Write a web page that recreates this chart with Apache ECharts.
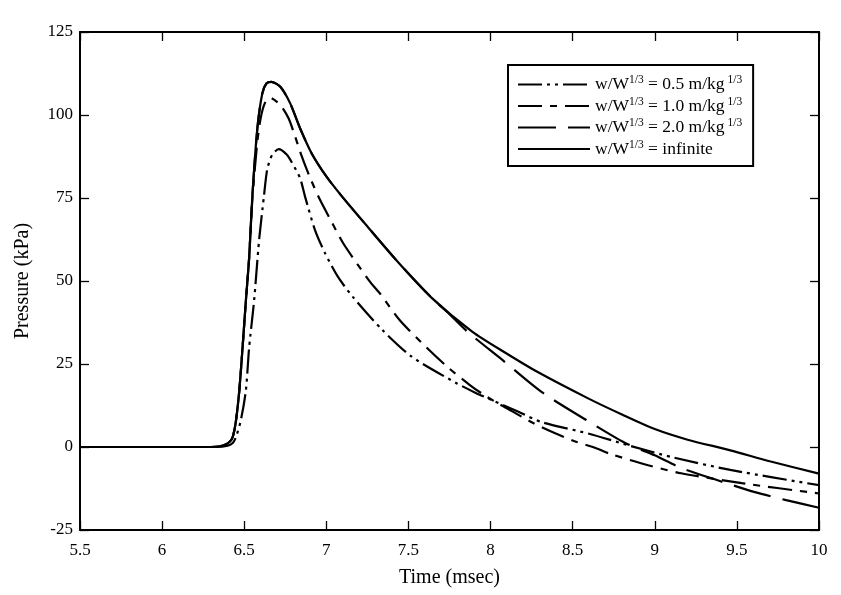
<!DOCTYPE html>
<html>
<head>
<meta charset="utf-8">
<script src="https://cdn.jsdelivr.net/npm/echarts@6/dist/echarts.min.js"></script>
<style>
html,body{margin:0;padding:0;background:#fff;}
#chart{width:841px;height:595px;}
</style>
</head>
<body>
<div id="chart"></div>
<script>
// ---- data ----
var seriesNames = ['0.5', '1.0', '2.0', 'infinite'];

var t05 = [5.5, 6.33, 6.40, 6.43, 6.45, 6.48, 6.51, 6.53, 6.56, 6.59, 6.62, 6.64, 6.67, 6.71, 6.76, 6.79, 6.84, 6.87, 6.93, 6.99, 7.07, 7.16, 7.34, 7.52, 7.79, 7.91, 8.0, 8.17, 8.31, 8.60, 8.84, 9.1, 9.46, 10.0];
var p05 = [0, 0, 0.4, 1.2, 3, 8.2, 17, 30, 44, 62, 75.5, 83.6, 88, 89.7, 88, 85.7, 81, 75.5, 65.5, 58.6, 51.3, 45.3, 35.3, 27.2, 19.3, 16.3, 14.3, 10.6, 7.5, 4.0, 0.5, -3.0, -6.9, -11.5];

var t10 = [5.5, 6.30, 6.37, 6.41, 6.43, 6.45, 6.47, 6.49, 6.51, 6.53, 6.55, 6.58, 6.60, 6.625, 6.655, 6.72, 6.77, 6.81, 6.85, 6.90, 6.96, 7.03, 7.10, 7.19, 7.27, 7.33, 7.45, 7.61, 7.74, 7.87, 7.95, 8.05, 8.13, 8.26, 8.39, 8.52, 8.64, 8.73, 8.96, 9.16, 9.53, 10.0];
var p10 = [0, 0, 0.4, 1.5, 3, 8, 17, 30, 44, 57, 75, 92, 99, 103.5, 105.2, 103, 99, 93.5, 87.6, 81.2, 74.6, 68, 61.6, 55, 49.5, 46, 38, 30, 24, 18.8, 16, 13, 10.8, 7.2, 4.2, 1.6, -0.3, -2.1, -5.5, -7.9, -10.9, -14];

var t20 = [5.5, 6.30, 6.37, 6.41, 6.43, 6.45, 6.47, 6.49, 6.51, 6.53, 6.55, 6.58, 6.61, 6.635, 6.665, 6.72, 6.78, 6.84, 6.91, 7.00, 7.09, 7.24, 7.44, 7.64, 7.75, 7.86, 8.07, 8.31, 8.58, 8.82, 9.0, 9.16, 9.4, 9.61, 9.8, 10.0];
var p20 = [0, 0, 0.4, 1.5, 3, 8, 17, 30, 44, 57, 76, 96, 106.5, 109.5, 110, 108.5, 103.5, 96, 88.5, 81.5, 75.8, 67, 55.5, 45, 40, 34.7, 26.3, 16.6, 8.2, 1.2, -2.5, -6.3, -10.3, -13.6, -16, -18.3];

var tInf = [5.5, 6.30, 6.37, 6.41, 6.43, 6.45, 6.47, 6.49, 6.51, 6.53, 6.55, 6.58, 6.61, 6.635, 6.665, 6.72, 6.78, 6.84, 6.91, 7.00, 7.09, 7.24, 7.44, 7.64, 7.89, 8.09, 8.29, 8.60, 8.80, 9.00, 9.20, 9.46, 9.70, 10.0];
var pInf = [0, 0, 0.4, 1.5, 3, 8, 17, 30, 44, 57, 76, 96, 106.5, 109.5, 110, 108.5, 103.5, 96, 88.5, 81.5, 75.8, 67, 55.5, 45, 34.7, 28.4, 22.5, 14.5, 9.8, 5.4, 2.2, -1, -4.3, -8];

var xTicks = {min: 5.5, max: 10, step: 0.5};
var yTicks = {min: -25, max: 125, step: 25};

// ---- build chart ----
function zip(t, p) { return t.map(function (v, i) { return [v, p[i]]; }); }
var dashes = {
  '0.5': [24, 5, 3, 5, 3, 5],
  '1.0': [24, 8, 7, 8],
  '2.0': [38, 12],
  'infinite': 'solid'
};
var dataMap = {
  '0.5': zip(t05, p05),
  '1.0': zip(t10, p10),
  '2.0': zip(t20, p20),
  'infinite': zip(tInf, pInf)
};
var FONT = 'Liberation Serif';

var chart = echarts.init(document.getElementById('chart'), null, {renderer: 'canvas'});
var tickStyle = {show: true, inside: true, length: 9, lineStyle: {color: '#000', width: 1.3}};
var lineAx = {show: true, onZero: false, lineStyle: {color: '#000', width: 2}};

chart.setOption({
  animation: false,
  backgroundColor: '#fff',
  grid: {left: 80, right: 22, top: 32, bottom: 65, show: false, containLabel: false, outerBoundsMode: 'none'},
  legend: {
    orient: 'vertical',
    left: 508, top: 65,
    padding: [9, 11, 8, 9],
    itemGap: 2,
    itemWidth: 72,
    itemHeight: 14,
    borderColor: '#000', borderWidth: 2,
    backgroundColor: '#fff',
    itemStyle: {opacity: 0},
    data: seriesNames,
    formatter: function (name) {
      if (name === 'infinite') return '{a|w/W}{s|1/3}{a| = infinite}';
      return '{a|w/W}{s|1/3}{a| = ' + name + ' m/kg}{s| 1/3}';
    },
    textStyle: {
      fontFamily: FONT, color: '#000', fontSize: 17.5,
      rich: {
        a: {fontFamily: FONT, fontSize: 17.5, color: '#000', lineHeight: 21},
        s: {fontFamily: FONT, fontSize: 11.5, color: '#000', lineHeight: 9, verticalAlign: 'top'}
      }
    }
  },
  xAxis: [{
    type: 'value', min: xTicks.min, max: xTicks.max, interval: xTicks.step,
    position: 'bottom',
    name: 'Time (msec)', nameLocation: 'middle', nameGap: 38,
    nameTextStyle: {fontFamily: FONT, fontSize: 20, color: '#000'},
    axisLine: lineAx, axisTick: tickStyle,
    axisLabel: {fontFamily: FONT, fontSize: 17, color: '#000', margin: 12},
    splitLine: {show: false}
  }, {
    type: 'value', min: xTicks.min, max: xTicks.max, interval: xTicks.step,
    position: 'top',
    axisLine: lineAx, axisTick: tickStyle,
    axisLabel: {show: false}, splitLine: {show: false}
  }],
  yAxis: [{
    type: 'value', min: yTicks.min, max: yTicks.max, interval: yTicks.step,
    position: 'left',
    name: 'Pressure (kPa)', nameLocation: 'middle', nameGap: 47,
    nameTextStyle: {fontFamily: FONT, fontSize: 20, color: '#000'},
    axisLine: lineAx, axisTick: tickStyle,
    axisLabel: {fontFamily: FONT, fontSize: 17, color: '#000', margin: 7},
    splitLine: {show: false}
  }, {
    type: 'value', min: yTicks.min, max: yTicks.max, interval: yTicks.step,
    position: 'right',
    axisLine: lineAx, axisTick: tickStyle,
    axisLabel: {show: false}, splitLine: {show: false}
  }],
  series: seriesNames.map(function (n) {
    return {
      name: n, type: 'line',
      data: dataMap[n],
      showSymbol: false, symbol: 'none',
      smooth: 0.25,
      lineStyle: {color: '#000', width: 2.2, type: dashes[n]},
      itemStyle: {color: '#000'},
      z: n === 'infinite' ? 3 : 2
    };
  })
});
</script>
</body>
</html>
